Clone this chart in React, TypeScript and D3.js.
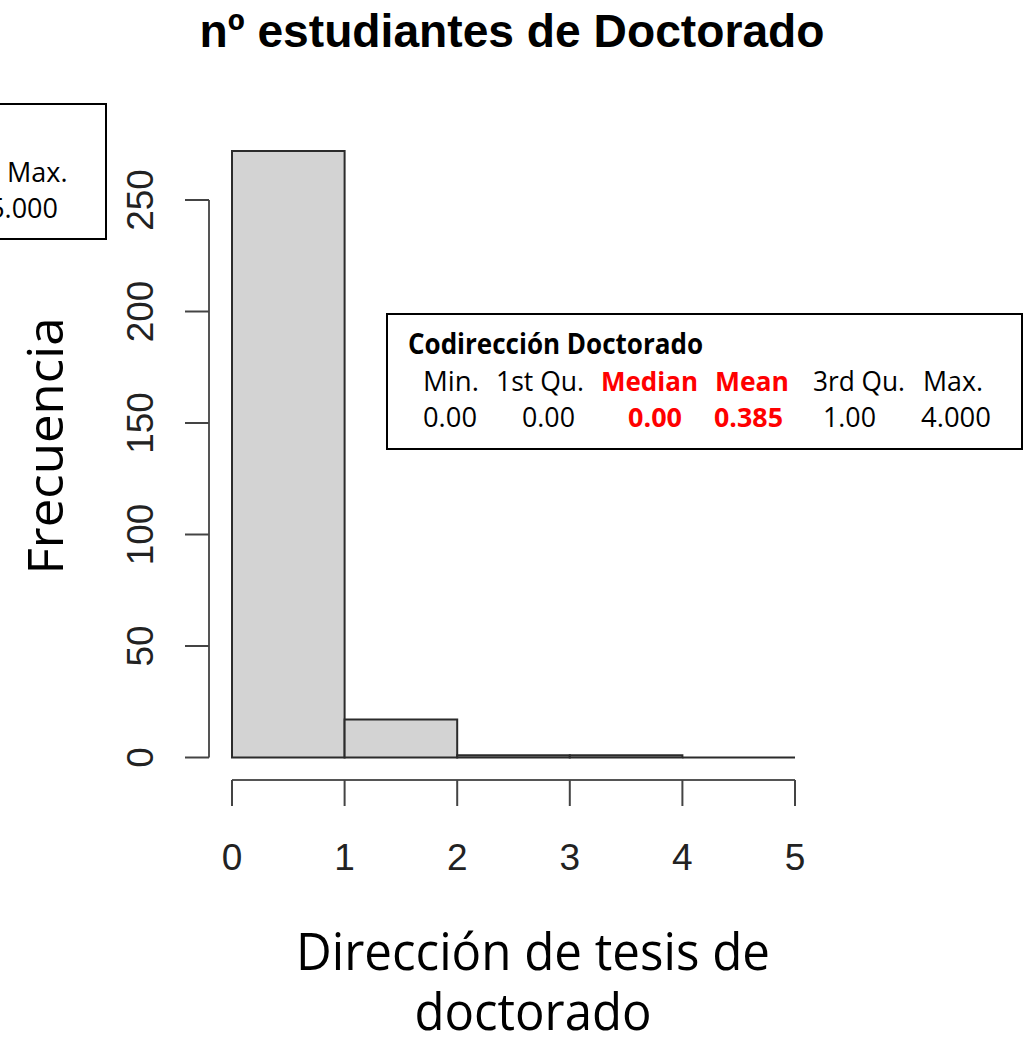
import * as d3 from 'd3';

// histogram data
const binEdges = [0, 1, 2, 3, 4, 5];
const counts = [272, 17, 1, 1, 0];
const xTicks = [0, 1, 2, 3, 4, 5];
const yTicks = [0, 50, 100, 150, 200, 250];

// summary box
const statTitle = 'Codirección Doctorado';
const statLabels = ['Min.', '1st Qu.', 'Median', 'Mean', '3rd Qu.', 'Max.'];
const statValues = ['0.00', '0.00', '0.00', '0.385', '1.00', '4.000'];
const statHighlight = [false, false, true, true, false, false];

// cropped box of the neighbouring chart
const sideLabel = 'Max.';
const sideValue = '5.000';

// layout of the summary columns (left edge, width)
const labelX = [423, 496, 601, 715, 813, 923];
const labelW = [56, 88, 97, 74, 92, 60];
const valueX = [423, 522, 628, 714, 823, 921];
const valueW = [54, 53, 54, 69, 53, 70];

const W = 1030;
const H = 1038;
const rFont = '"Liberation Sans", Arial, sans-serif';
const labelFont = '"Open Sans", sans-serif';

export default function App() {
	const x = d3.scaleLinear().domain([0, 5]).range([232, 795]);
	const y = d3.scaleLinear().domain([0, 250]).range([757.5, 200]);

	const line = d3.line();
	const bars = counts.map((c, i) => {
		const x0 = x(binEdges[i]);
		const x1 = x(binEdges[i + 1]);
		const y0 = y(0);
		const y1 = y(c);
		return line([
			[x0, y0],
			[x0, y1],
			[x1, y1],
			[x1, y0],
		]) + 'Z';
	});

	const axisY = 780;
	const axisX = 209;

	return (
		<div style={{ position: 'absolute', left: 0, top: 0 }}>
			<svg width={W} height={H} style={{ display: 'block', background: '#fff' }}>
				{/* title */}
				<text
					x={512}
					y={47}
					textAnchor='middle'
					fontFamily={rFont}
					fontWeight='bold'
					fontSize={46}
					textLength={625}
					lengthAdjust='spacingAndGlyphs'
					fill='#000'>
					nº estudiantes de Doctorado
				</text>

				{/* bars */}
				{bars.map((d, i) => (
					<path
						key={i}
						d={d}
						fill='#d3d3d3'
						stroke='#2b2b2b'
						strokeWidth={2}
					/>
				))}

				{/* y axis */}
				<line
					x1={axisX}
					x2={axisX}
					y1={y(yTicks[0])}
					y2={y(yTicks[yTicks.length - 1])}
					stroke='#555'
					strokeWidth={2}
				/>
				{yTicks.map((t) => (
					<g key={t}>
						<line
							x1={axisX - 24}
							x2={axisX}
							y1={y(t)}
							y2={y(t)}
							stroke='#444'
							strokeWidth={2}
						/>
						<text
							transform={`translate(153,${y(t)}) rotate(-90)`}
							textAnchor='middle'
							fontFamily={rFont}
							fontSize={37}
							fill='#222'>
							{t}
						</text>
					</g>
				))}

				{/* x axis */}
				<line
					x1={x(xTicks[0])}
					x2={x(xTicks[xTicks.length - 1])}
					y1={axisY}
					y2={axisY}
					stroke='#555'
					strokeWidth={2}
				/>
				{xTicks.map((t) => (
					<g key={t}>
						<line
							x1={x(t)}
							x2={x(t)}
							y1={axisY}
							y2={axisY + 26}
							stroke='#444'
							strokeWidth={2}
						/>
						<text
							x={x(t)}
							y={870}
							textAnchor='middle'
							fontFamily={rFont}
							fontSize={37}
							fill='#222'>
							{t}
						</text>
					</g>
				))}

				{/* axis titles */}
				<text
					transform='translate(63,446) rotate(-90)'
					textAnchor='middle'
					fontFamily={labelFont}
					fontSize={50}
					textLength={257}
					lengthAdjust='spacingAndGlyphs'
					fill='#000'>
					Frecuencia
				</text>
				<text
					x={533}
					y={970}
					textAnchor='middle'
					fontFamily={labelFont}
					fontSize={51}
					textLength={474}
					lengthAdjust='spacingAndGlyphs'
					fill='#000'>
					Dirección de tesis de
				</text>
				<text
					x={533}
					y={1030}
					textAnchor='middle'
					fontFamily={labelFont}
					fontSize={51}
					textLength={237}
					lengthAdjust='spacingAndGlyphs'
					fill='#000'>
					doctorado
				</text>

				{/* cropped box top-left */}
				<rect x={-10} y={104} width={116} height={135} fill='#fff' stroke='#000' strokeWidth={2} />
				<text x={7} y={182} fontFamily={labelFont} fontSize={27} fill='#000'>
					{sideLabel}
				</text>
				<text x={58} y={218} textAnchor='end' fontFamily={labelFont} fontSize={27} fill='#000'>
					{sideValue}
				</text>

				{/* summary box */}
				<rect x={387} y={314} width={635} height={135} fill='#fff' stroke='#000' strokeWidth={2} />
				<text
					x={408}
					y={354}
					fontFamily={labelFont}
					fontWeight='bold'
					fontSize={28}
					textLength={295}
					lengthAdjust='spacingAndGlyphs'
					fill='#000'>
					{statTitle}
				</text>
				{statLabels.map((s, i) => (
					<text
						key={'l' + i}
						x={labelX[i]}
						y={391}
						fontFamily={labelFont}
						fontWeight={statHighlight[i] ? 'bold' : 'normal'}
						fontSize={27}
						textLength={labelW[i]}
						lengthAdjust='spacingAndGlyphs'
						fill={statHighlight[i] ? '#ff0000' : '#000'}>
						{s}
					</text>
				))}
				{statValues.map((s, i) => (
					<text
						key={'v' + i}
						x={valueX[i]}
						y={427}
						fontFamily={labelFont}
						fontWeight={statHighlight[i] ? 'bold' : 'normal'}
						fontSize={27}
						textLength={valueW[i]}
						lengthAdjust='spacingAndGlyphs'
						fill={statHighlight[i] ? '#ff0000' : '#000'}>
						{s}
					</text>
				))}
			</svg>
		</div>
	);
}
